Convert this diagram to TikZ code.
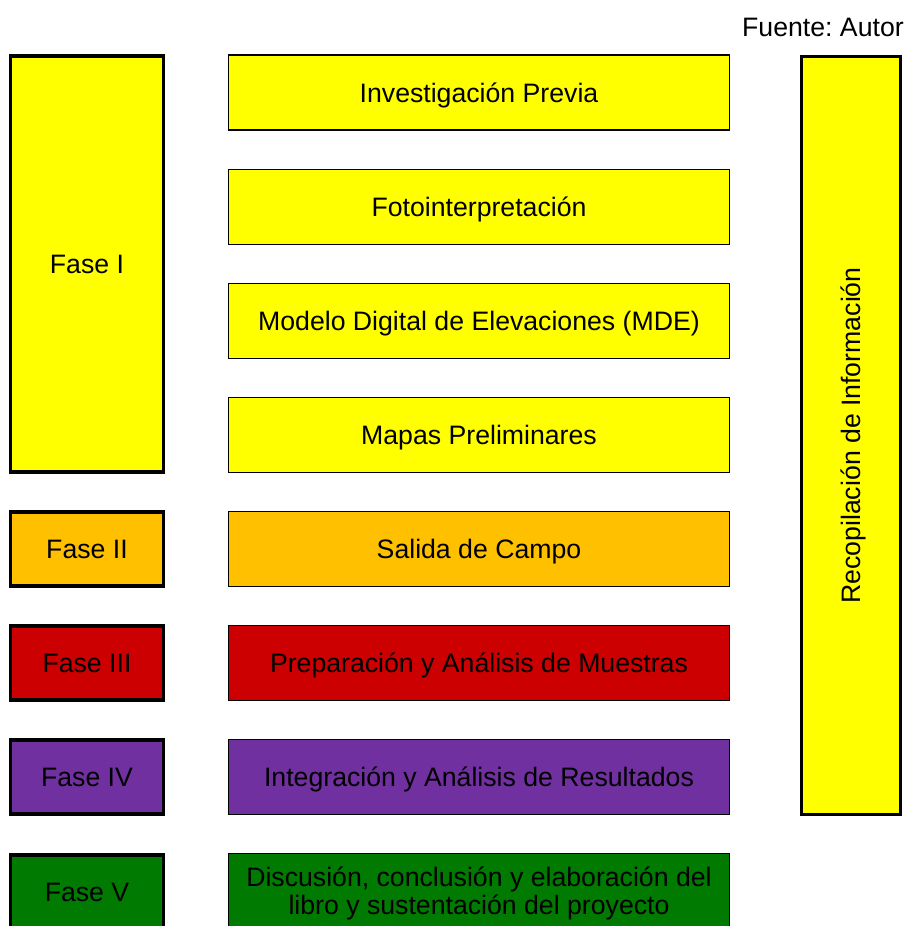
\documentclass[tikz,border=0pt]{standalone}
\usepackage{fontspec}
\setmainfont{Liberation Sans}
\usepackage{xcolor}
\usepackage{tikz}
\frenchspacing

\definecolor{faseuno}{HTML}{FFFF00}
\definecolor{fasedos}{HTML}{FFC000}
\definecolor{fasetres}{HTML}{CC0000}
\definecolor{fasecuatro}{HTML}{7030A0}
\definecolor{fasecinco}{HTML}{007A00}

\begin{document}
\begin{tikzpicture}[x=0.75pt,y=-0.75pt,
  fasebox/.style={draw=black,line width=2.4pt,minimum width=115pt,inner sep=0pt,text height=14.3pt,text depth=0pt,font=\fontsize{20}{21}\selectfont},
  tareabox/.style={draw=black,line width=1.1pt,minimum width=376pt,minimum height=56.5pt,inner sep=0pt,align=center,text height=14.3pt,text depth=0pt,font=\fontsize{20}{21}\selectfont}]
\useasboundingbox (0,0) rectangle (908,926);
\node [anchor=east,inner sep=0pt,font=\fontsize{20}{21}\selectfont] (fuente) at (904,27) {Fuente: Autor};
% fases
\node [fasebox,fill=faseuno,minimum height=312pt] (f1) at (87,264) {Fase I};
\node [fasebox,fill=fasedos,minimum height=55.5pt] (f2) at (87,549) {Fase II};
\node [fasebox,fill=fasetres,minimum height=55.5pt] (f3) at (87,663) {Fase III};
\node [fasebox,fill=fasecuatro,minimum height=55.5pt] (f4) at (87,777) {Fase IV};
\node [fasebox,fill=fasecinco,minimum height=55.5pt] (f5) at (87,892) {Fase V};
% actividades
\node [tareabox,fill=faseuno] (t1) at (479,92.5) {Investigación Previa};
\node [tareabox,fill=faseuno] (t2) at (479,207) {Fotointerpretación};
\node [tareabox,fill=faseuno] (t3) at (479,321) {Modelo Digital de Elevaciones (MDE)};
\node [tareabox,fill=faseuno] (t4) at (479,435) {Mapas Preliminares};
\node [tareabox,fill=fasedos] (t5) at (479,549) {Salida de Campo};
\node [tareabox,fill=fasetres] (t6) at (479,663) {Preparación y Análisis de Muestras};
\node [tareabox,fill=fasecuatro] (t7) at (479,777) {Integración y Análisis de Resultados};
\node [tareabox,fill=fasecinco,text height=35.3pt,text depth=0pt] (t8) at (479,891) {Discusión, conclusión y elaboración del\\libro y sustentación del proyecto};
% recopilacion
\node [fasebox,fill=faseuno,minimum width=568pt,minimum height=74pt,rotate=90] (rec) at (851,435.5) {Recopilación de Información};
\end{tikzpicture}
\end{document}
